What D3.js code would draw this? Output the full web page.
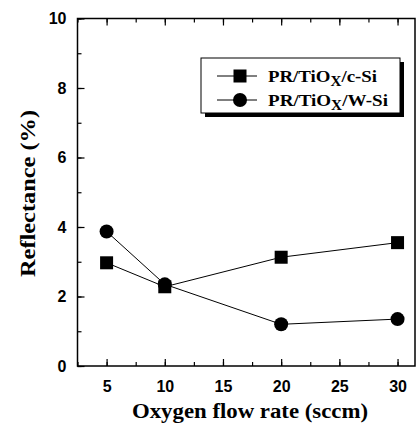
<!DOCTYPE html>
<html>
<head>
<meta charset="utf-8">
<script src="https://cdn.jsdelivr.net/npm/d3@7"></script>
<style>
  body { margin: 0; background: #fff; }
  .tick text { font-family: Arial, "Liberation Sans", sans-serif; font-weight: bold; font-size: 16px; }
  .title { font-family: "Times New Roman", "Liberation Serif", serif; font-weight: bold; }
</style>
</head>
<body>
<svg id="chart" width="416" height="425"></svg>
<script>
// data
const flowRates = [5, 10, 20, 30];
const cSi = [2.97, 2.28, 3.13, 3.55];
const wSi = [3.87, 2.35, 1.2, 1.35];
const xTicks = [5, 10, 15, 20, 25, 30];
const yTicks = [0, 2, 4, 6, 8, 10];

const margin = { top: 18.5, right: 1, bottom: 59, left: 77.5 };
const width = 416 - margin.left - margin.right;
const height = 425 - margin.top - margin.bottom;

const svg = d3.select("#chart");
const g = svg.append("g").attr("transform", `translate(${margin.left},${margin.top})`);

const xScale = d3.scaleLinear().domain([2.5, 31.5]).range([0, width]);
const yScale = d3.scaleLinear().domain([0, 10]).range([height, 0]);

// minor ticks first, then the major ones with labels
const xMinor = d3.range(2.5, 31.5, 2.5);
const yMinor = d3.range(0, 10.01, 1);

g.append("g").attr("transform", `translate(0,${height})`)
  .call(d3.axisBottom(xScale).tickValues(xMinor).tickSize(-4).tickFormat(""));
g.append("g").attr("transform", `translate(0,${height})`)
  .call(d3.axisBottom(xScale).tickValues(xTicks).tickSize(-7).tickPadding(15).tickFormat(d3.format("d")));
g.append("g")
  .call(d3.axisTop(xScale).tickValues(xMinor).tickSize(-4).tickFormat(""));
g.append("g")
  .call(d3.axisTop(xScale).tickValues(xTicks).tickSize(-7).tickFormat(""));

g.append("g")
  .call(d3.axisLeft(yScale).tickValues(yMinor).tickSize(-4).tickFormat(""));
g.append("g")
  .call(d3.axisLeft(yScale).tickValues(yTicks).tickSize(-7).tickPadding(11).tickFormat(d3.format("d")));

g.selectAll(".domain").remove();
g.selectAll(".tick line").attr("stroke", "#000").attr("stroke-width", 1.2);
g.selectAll(".tick text").attr("fill", "#000");

// frame
g.append("rect")
  .attr("x", 0).attr("y", 0)
  .attr("width", width).attr("height", height)
  .attr("fill", "none").attr("stroke", "#000").attr("stroke-width", 1.5);

const line = d3.line().x(d => xScale(d[0])).y(d => yScale(d[1]));
const cData = flowRates.map((f, i) => [f, cSi[i]]);
const wData = flowRates.map((f, i) => [f, wSi[i]]);

g.append("path").datum(wData).attr("d", line)
  .attr("fill", "none").attr("stroke", "#000").attr("stroke-width", 1);
g.append("path").datum(cData).attr("d", line)
  .attr("fill", "none").attr("stroke", "#000").attr("stroke-width", 1);

g.selectAll(".circ").data(wData).enter().append("circle")
  .attr("class", "circ")
  .attr("cx", d => xScale(d[0])).attr("cy", d => yScale(d[1]))
  .attr("r", 7).attr("fill", "#000");

const sq = 13;
g.selectAll(".sq").data(cData).enter().append("rect")
  .attr("class", "sq")
  .attr("x", d => xScale(d[0]) - sq / 2).attr("y", d => yScale(d[1]) - sq / 2)
  .attr("width", sq).attr("height", sq).attr("fill", "#000");

// legend with drop shadow
const lg = svg.append("g").attr("transform", "translate(201,58)");
lg.append("rect").attr("x", 4).attr("y", 4).attr("width", 199).attr("height", 55).attr("fill", "#000");
lg.append("rect").attr("x", 0).attr("y", 0).attr("width", 199).attr("height", 55)
  .attr("fill", "#fff").attr("stroke", "#000").attr("stroke-width", 1);

const legendItems = [
  { name: "c-Si", y: 18, shape: "square", len: 109 },
  { name: "W-Si", y: 42, shape: "circle", len: 120 }
];
legendItems.forEach(item => {
  lg.append("line").attr("x1", 16).attr("x2", 56).attr("y1", item.y).attr("y2", item.y)
    .attr("stroke", "#000").attr("stroke-width", 1);
  if (item.shape === "square") {
    lg.append("rect").attr("x", 39 - 6.5).attr("y", item.y - 6.5).attr("width", 13).attr("height", 13).attr("fill", "#000");
  } else {
    lg.append("circle").attr("cx", 39).attr("cy", item.y).attr("r", 7).attr("fill", "#000");
  }
  const t = lg.append("text").attr("class", "title")
    .attr("x", 67).attr("y", item.y + 6).attr("font-size", 17.5)
    .attr("textLength", item.len).attr("lengthAdjust", "spacingAndGlyphs");
  t.append("tspan").text("PR/TiO");
  t.append("tspan").attr("dy", 4).attr("font-size", 14).text("X");
  t.append("tspan").attr("dy", -4).text("/" + item.name);
});

// axis titles
svg.append("text").attr("class", "title")
  .attr("x", 250).attr("y", 418)
  .attr("text-anchor", "middle").attr("font-size", 20)
  .attr("textLength", 236).attr("lengthAdjust", "spacingAndGlyphs")
  .text("Oxygen flow rate (sccm)");

svg.append("text").attr("class", "title")
  .attr("transform", "translate(35,193.5) rotate(-90)")
  .attr("text-anchor", "middle").attr("font-size", 21)
  .attr("textLength", 167).attr("lengthAdjust", "spacingAndGlyphs")
  .text("Reflectance (%)");
</script>
</body>
</html>
